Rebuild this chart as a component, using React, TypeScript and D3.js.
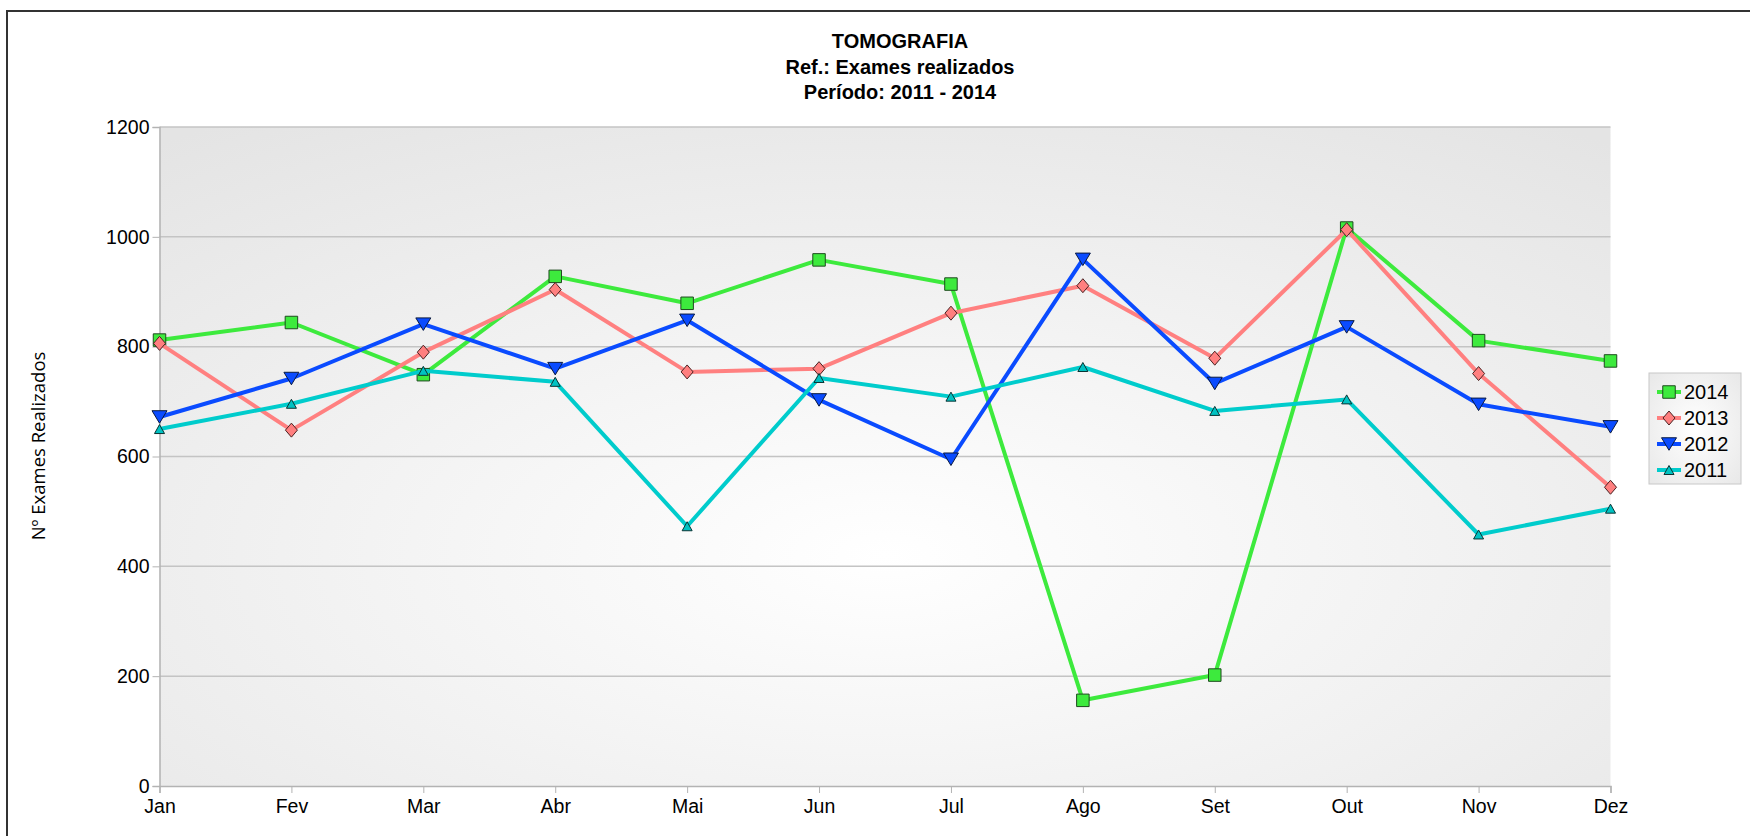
import React, { useEffect, useRef } from "react";
import * as d3 from "d3";

// chart data
const months = ["Jan", "Fev", "Mar", "Abr", "Mai", "Jun", "Jul", "Ago", "Set", "Out", "Nov", "Dez"];
const yTicks = [0, 200, 400, 600, 800, 1000, 1200];
const seriesNames = ["2014", "2013", "2012", "2011"];
const values2014 = [812, 844, 749, 928, 879, 958, 914, 156, 202, 1016, 811, 774];
const values2013 = [806, 648, 790, 904, 754, 760, 861, 911, 779, 1013, 751, 544];
const values2012 = [672, 742, 841, 760, 848, 703, 595, 959, 733, 836, 695, 654];
const values2011 = [650, 696, 756, 736, 473, 743, 709, 763, 683, 704, 458, 505];

const W = 1750, H = 836;
const margin = { top: 127, right: 139.5, bottom: 50, left: 159.5 };
const innerW = W - margin.left - margin.right;
const innerH = H - margin.top - margin.bottom;

// custom marker shapes for d3.symbol
const makeShape = (kind: string, w: number, h: number) => ({
  draw(ctx: any) {
    const a = w / 2, b = h / 2;
    if (kind === "square") {
      ctx.rect(-a, -b, w, h);
    } else if (kind === "diamond") {
      ctx.moveTo(0, -b); ctx.lineTo(a, 0); ctx.lineTo(0, b); ctx.lineTo(-a, 0); ctx.closePath();
    } else if (kind === "down") {
      ctx.moveTo(-a, -b); ctx.lineTo(a, -b); ctx.lineTo(0, b); ctx.closePath();
    } else {
      ctx.moveTo(0, -b); ctx.lineTo(a, b); ctx.lineTo(-a, b); ctx.closePath();
    }
  },
});

const styles = [
  { line: "#3dea3d", fill: "#3dea3d", stroke: "#1e4a1e", shape: makeShape("square", 12.5, 12.5) },
  { line: "#ff8080", fill: "#ff7f7f", stroke: "#4a2222", shape: makeShape("diamond", 12, 14) },
  { line: "#0a4bff", fill: "#0a4bff", stroke: "#0a1a40", shape: makeShape("down", 15, 12.5) },
  { line: "#00cccc", fill: "#00c2c2", stroke: "#0a3333", shape: makeShape("up", 10, 9) },
];

export default function App() {
  const ref = useRef<SVGSVGElement>(null);

  useEffect(() => {
    const data = [values2014, values2013, values2012, values2011];
    const root = d3.select(ref.current);
    root.selectAll("*").remove();

    const defs = root.append("defs");
    const grad = defs.append("radialGradient").attr("id", "bg").attr("cx", "50%").attr("cy", "65%").attr("r", "80%");
    grad.append("stop").attr("offset", "0%").attr("stop-color", "#ffffff");
    grad.append("stop").attr("offset", "100%").attr("stop-color", "#e4e4e4");
    const lg = defs.append("radialGradient").attr("id", "lg").attr("cx", "50%").attr("cy", "50%").attr("r", "70%");
    lg.append("stop").attr("offset", "0%").attr("stop-color", "#ffffff");
    lg.append("stop").attr("offset", "100%").attr("stop-color", "#e8e8e8");

    root.append("rect").attr("width", W).attr("height", H).attr("fill", "#fff");
    // outer frame (only top and left edges visible)
    root.append("path").attr("d", `M7,${H} L7,11 L${W},11`).attr("fill", "none").attr("stroke", "#333").attr("stroke-width", 2);

    // titles
    const titles = ["TOMOGRAFIA", "Ref.: Exames realizados", "Período: 2011 - 2014"];
    root.selectAll(".title").data(titles).enter().append("text")
      .attr("x", 900).attr("y", (d, i) => 48 + i * 25.5)
      .attr("text-anchor", "middle")
      .attr("font-family", "Liberation Sans, Arial, sans-serif")
      .attr("font-weight", "bold").attr("font-size", 20)
      .text(d => d);

    const g = root.append("g").attr("transform", `translate(${margin.left},${margin.top})`);

    const x = d3.scalePoint().domain(months).range([0, innerW]);
    const y = d3.scaleLinear().domain([0, 1200]).range([innerH, 0]);

    g.append("rect").attr("width", innerW).attr("height", innerH).attr("fill", "url(#bg)");

    // grid
    g.selectAll(".grid").data(yTicks.filter(t => t > 0)).enter().append("line")
      .attr("x1", 0).attr("x2", innerW).attr("y1", d => y(d)).attr("y2", d => y(d))
      .attr("stroke", "#c4c4c4").attr("stroke-width", 1.5);

    // axes
    const yAxis = g.append("g").call(d3.axisLeft(y).tickValues(yTicks).tickFormat(d3.format("d")).tickSize(7).tickPadding(3));
    const xAxis = g.append("g").attr("transform", `translate(0,${innerH})`)
      .call(d3.axisBottom(x).tickSize(7).tickPadding(6));
    [yAxis, xAxis].forEach(ax => {
      ax.selectAll("path").attr("stroke", "#b3b3b3").attr("stroke-width", 1.5);
      ax.selectAll("line").attr("stroke", "#b3b3b3");
      ax.selectAll("text").attr("font-family", "Liberation Sans, Arial, sans-serif").attr("font-size", 19.5).attr("fill", "#000");
    });

    // y axis title
    root.append("text")
      .attr("transform", "translate(45,446) rotate(-90)")
      .attr("text-anchor", "middle")
      .attr("font-family", "Open Sans, sans-serif").attr("font-size", 18.5)
      .text("Nº Exames Realizados");

    // series
    const line = d3.line<number>().x((d, i) => x(months[i]) as number).y(d => y(d));
    data.forEach((vals, s) => {
      g.append("path").datum(vals).attr("d", line)
        .attr("fill", "none").attr("stroke", styles[s].line).attr("stroke-width", 4)
        .attr("stroke-linejoin", "round");
      g.selectAll(`.m${s}`).data(vals).enter().append("path")
        .attr("transform", (d, i) => `translate(${x(months[i])},${y(d)})`)
        .attr("d", d3.symbol(styles[s].shape as any)())
        .attr("fill", styles[s].fill).attr("stroke", styles[s].stroke).attr("stroke-width", 1);
    });

    // legend
    const leg = root.append("g").attr("transform", "translate(1649,373)");
    leg.append("rect").attr("width", 92).attr("height", 111).attr("fill", "url(#lg)").attr("stroke", "#c8c8c8");
    seriesNames.forEach((name, s) => {
      const ry = 19 + s * 26;
      leg.append("line").attr("x1", 8).attr("x2", 32).attr("y1", ry).attr("y2", ry)
        .attr("stroke", styles[s].line).attr("stroke-width", 4);
      leg.append("path").attr("transform", `translate(20,${ry})`)
        .attr("d", d3.symbol(styles[s].shape as any)())
        .attr("fill", styles[s].fill).attr("stroke", styles[s].stroke);
      leg.append("text").attr("x", 35).attr("y", ry + 7)
        .attr("font-family", "Liberation Sans, Arial, sans-serif").attr("font-size", 20)
        .text(name);
    });
  }, []);

  return <svg ref={ref} width={W} height={H} style={{ position: "absolute", left: 0, top: 0 }} />;
}
